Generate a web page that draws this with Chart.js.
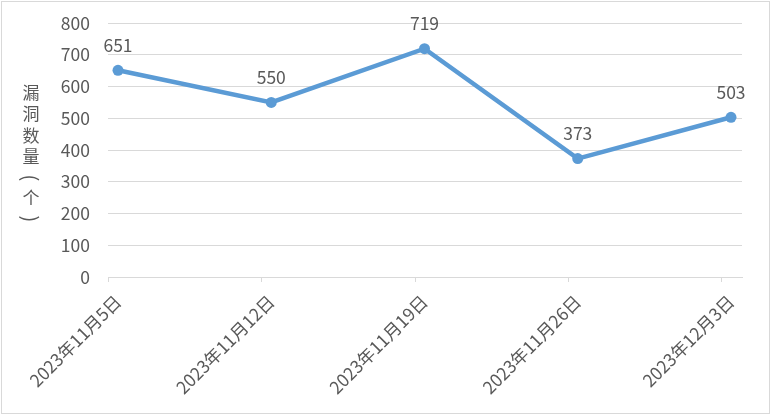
<!DOCTYPE html>
<html>
<head>
<meta charset="utf-8">
<script src="https://cdn.jsdelivr.net/npm/chart.js@4"></script>
<style>
  html, body { margin: 0; padding: 0; background: #fff; }
  #wrap { position: relative; width: 771px; height: 415px; }
  #frame { position: absolute; left: 1px; top: 1px; right: 1px; bottom: 1px; border: 1px solid #d9d9d9; pointer-events: none; }
  canvas { display: block; }
</style>
</head>
<body>
<div id="wrap">
  <canvas id="chart" width="771" height="415"></canvas>
  <div id="frame"></div>
</div>
<script>
// categories and values
const categories = ['2023年11月5日', '2023年11月12日', '2023年11月19日', '2023年11月26日', '2023年12月3日'];
const values = [651, 550, 719, 373, 503];
const yTitle = ['漏', '洞', '数', '量', '(', '个', ')'];

const fontFamily = '"Noto Sans CJK SC", "Noto Sans", sans-serif';
const textColor = '#595959';
const gridColor = '#d9d9d9';

// value labels above each point
const valueLabels = {
    id: 'valueLabels',
    afterDatasetsDraw(chart) {
        const ctx = chart.ctx;
        const meta = chart.getDatasetMeta(0);
        ctx.save();
        ctx.font = '17.5px ' + fontFamily;
        ctx.fillStyle = textColor;
        ctx.textAlign = 'center';
        ctx.textBaseline = 'middle';
        meta.data.forEach((pt, i) => {
            ctx.fillText(String(values[i]), pt.x, pt.y - 25);
        });
        ctx.restore();
    }
};

// vertical stacked axis title + category tick marks
const extras = {
    id: 'extras',
    beforeDatasetsDraw(chart) {
        const ctx = chart.ctx;
        const xs = chart.scales.x;
        const area = chart.chartArea;
        ctx.save();
        ctx.strokeStyle = gridColor;
        ctx.lineWidth = 1;
        categories.forEach((c, i) => {
            const x = Math.round(xs.getPixelForValue(i) - 10) + 0.5;
            ctx.beginPath();
            ctx.moveTo(x, area.bottom);
            ctx.lineTo(x, area.bottom + 5);
            ctx.stroke();
        });
        ctx.restore();
    },
    afterDraw(chart) {
        const ctx = chart.ctx;
        ctx.save();
        ctx.font = '17px ' + fontFamily;
        ctx.fillStyle = textColor;
        ctx.textAlign = 'center';
        ctx.textBaseline = 'middle';
        const ys = [93, 114, 136, 157, 178, 198, 219];
        yTitle.forEach((ch, i) => {
            if (ch === '(' || ch === ')') {
                // vertical-form brackets
                ctx.save();
                ctx.translate(31, ys[i]);
                ctx.rotate(Math.PI / 2);
                ctx.font = '20px ' + fontFamily;
                ctx.fillText(ch, 0, 0);
                ctx.restore();
            } else {
                ctx.fillText(ch, 31, ys[i]);
            }
        });
        ctx.restore();
    }
};

new Chart(document.getElementById('chart'), {
    type: 'line',
    data: {
        datasets: [{
            data: values.map((v, i) => ({ x: i, y: v })),
            borderColor: '#5b9bd5',
            backgroundColor: '#5b9bd5',
            borderWidth: 4.5,
            pointRadius: 5.5,
            pointBorderWidth: 0,
            tension: 0
        }]
    },
    options: {
        responsive: false,
        animation: false,
        layout: { autoPadding: false, padding: { top: 23, right: 29, left: 0, bottom: 0 } },
        plugins: {
            legend: { display: false },
            tooltip: { enabled: false }
        },
        scales: {
            x: {
                type: 'linear',
                min: -0.0653,
                max: 4.0718,
                afterFit: s => { s.height = 138; },
                grid: { display: false },
                border: { color: gridColor, width: 1 },
                ticks: {
                    stepSize: 1,
                    includeBounds: false,
                    autoSkip: false,
                    maxRotation: 45,
                    minRotation: 45,
                    padding: 6,
                    color: textColor,
                    font: { family: fontFamily, size: 17.5 },
                    callback: v => categories[v] ?? ''
                }
            },
            y: {
                min: 0,
                max: 800,
                afterFit: s => { s.width = 108; s.paddingTop = 0; s.paddingBottom = 0; },
                grid: { color: gridColor, lineWidth: 1, drawTicks: false },
                border: { display: false },
                ticks: {
                    stepSize: 100,
                    padding: 18,
                    color: textColor,
                    font: { family: fontFamily, size: 17.5 }
                }
            }
        }
    },
    plugins: [valueLabels, extras]
});
</script>
</body>
</html>
